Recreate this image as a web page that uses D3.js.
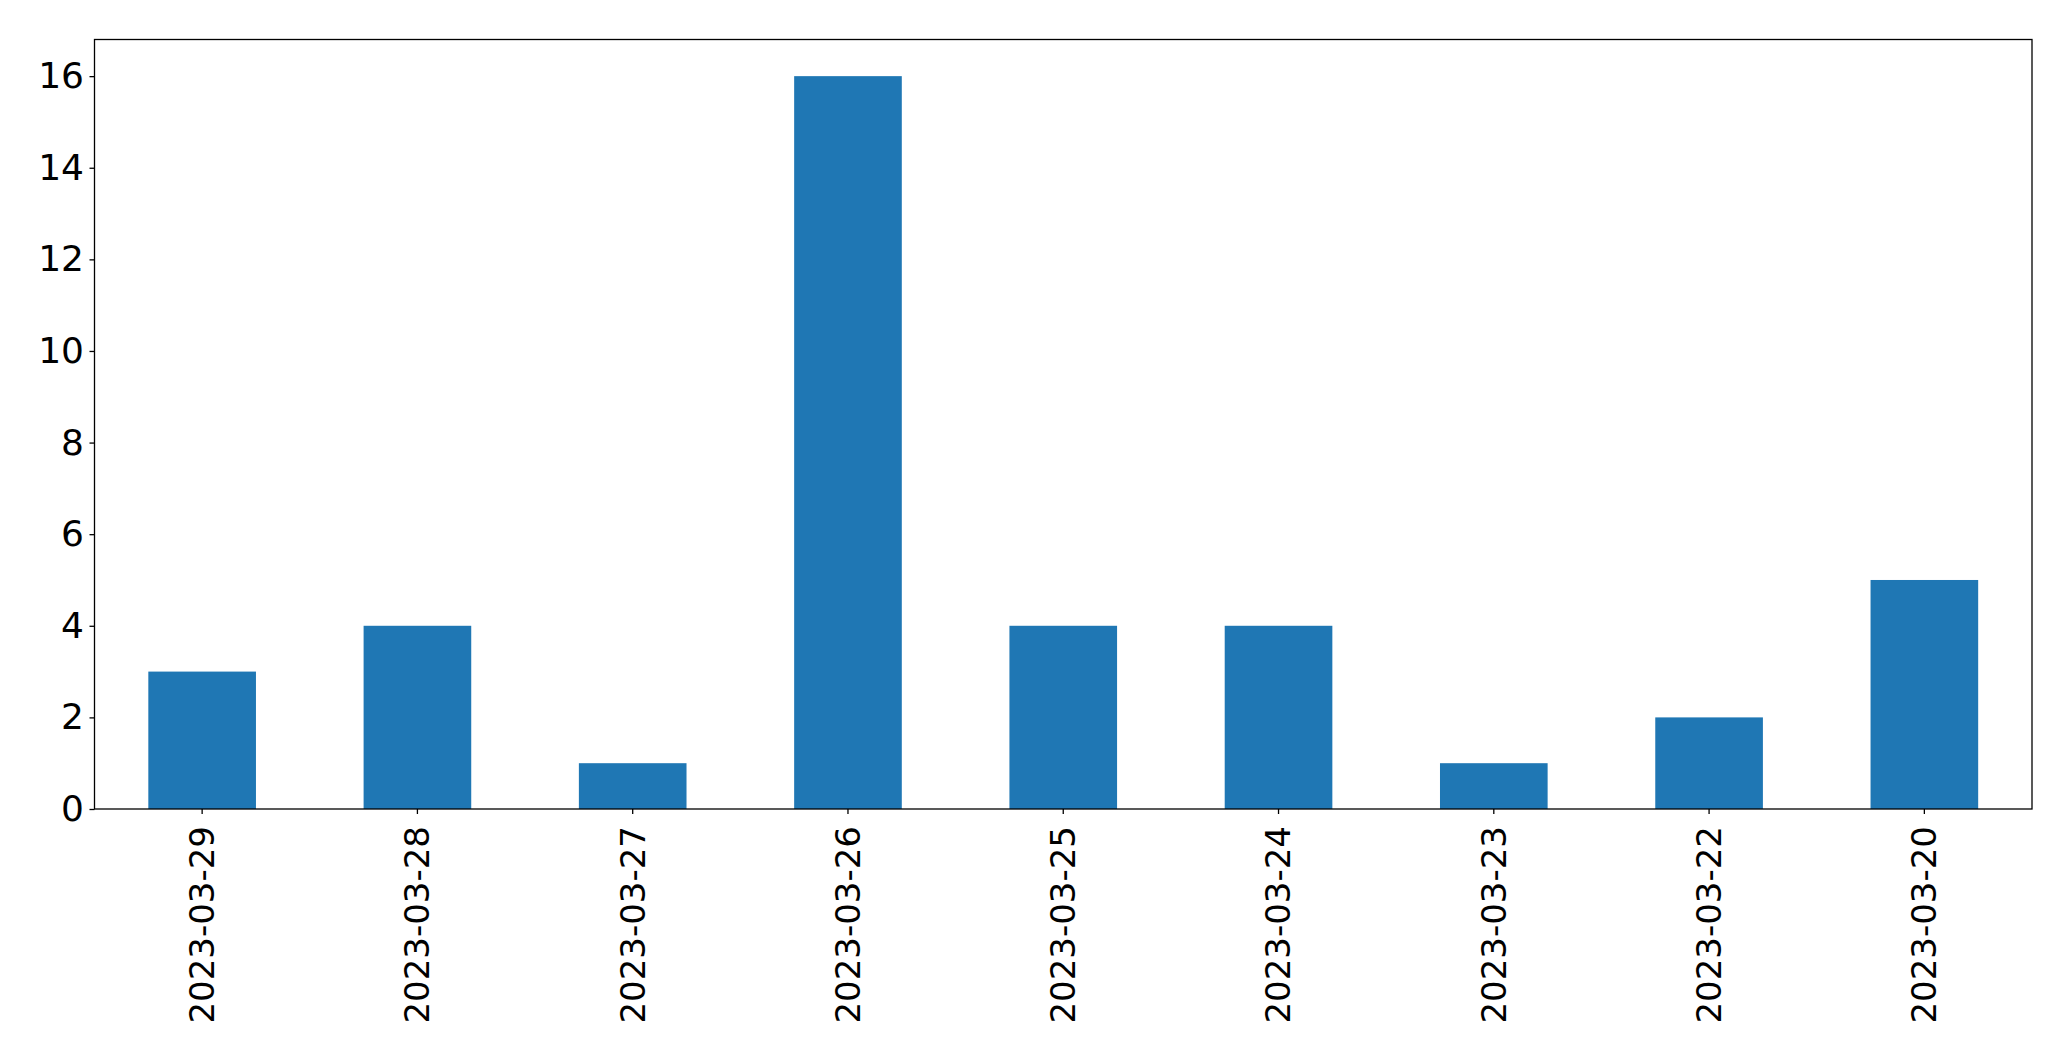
<!DOCTYPE html>
<html>
<head>
<meta charset="utf-8">
<script src="https://cdn.jsdelivr.net/npm/d3@7"></script>
<style>
  html, body { margin: 0; padding: 0; background: #fff; }
  svg { display: block; }
  text { font-family: "DejaVu Sans", sans-serif; fill: #000; }
</style>
</head>
<body>
<script>
const categories = ["2023-03-29","2023-03-28","2023-03-27","2023-03-26","2023-03-25","2023-03-24","2023-03-23","2023-03-22","2023-03-20"];
const values = [3, 4, 1, 16, 4, 4, 1, 2, 5];
const yTicks = [0, 2, 4, 6, 8, 10, 12, 14, 16];

const W = 2071, H = 1061;
const mLeft = 94.5, mRight = 2032, mTop = 39.5, mBottom = 809;

const svg = d3.select("body").append("svg").attr("width", W).attr("height", H);

const x = d3.scaleBand().domain(categories).range([mLeft, mRight]).paddingInner(0.5).paddingOuter(0.25);
const y = d3.scaleLinear().domain([0, 16.8]).range([mBottom, mTop]);

svg.append("g").selectAll("rect").data(values).join("rect")
  .attr("x", (d, i) => x(categories[i]))
  .attr("width", x.bandwidth())
  .attr("y", d => y(d))
  .attr("height", d => y(0) - y(d))
  .attr("fill", "#1f77b4");

// frame
svg.append("rect").attr("x", mLeft).attr("y", mTop).attr("width", mRight - mLeft).attr("height", mBottom - mTop)
  .attr("fill", "none").attr("stroke", "#000").attr("stroke-width", 1.3);

const yAxis = svg.append("g").attr("transform", `translate(${mLeft},0)`)
  .call(d3.axisLeft(y).tickValues(yTicks).tickSize(5).tickPadding(5.5).tickFormat(d3.format("d")));
yAxis.select(".domain").remove();
yAxis.selectAll("line").attr("stroke", "#000").attr("stroke-width", 1.3);
yAxis.selectAll("text").attr("font-size", 36).attr("font-family", "DejaVu Sans").attr("fill", "#000");

const xAxis = svg.append("g").attr("transform", `translate(0,${mBottom})`)
  .call(d3.axisBottom(x).tickSize(5).tickPadding(0));
xAxis.select(".domain").remove();
xAxis.selectAll("line").attr("stroke", "#000").attr("stroke-width", 1.3);
xAxis.selectAll("text")
  .attr("font-size", 34).attr("font-family", "DejaVu Sans").attr("fill", "#000")
  .attr("text-anchor", "end")
  .attr("transform", "translate(0,17) rotate(-90)")
  .attr("x", 0).attr("y", 0).attr("dy", "0.35em");
</script>
</body>
</html>
